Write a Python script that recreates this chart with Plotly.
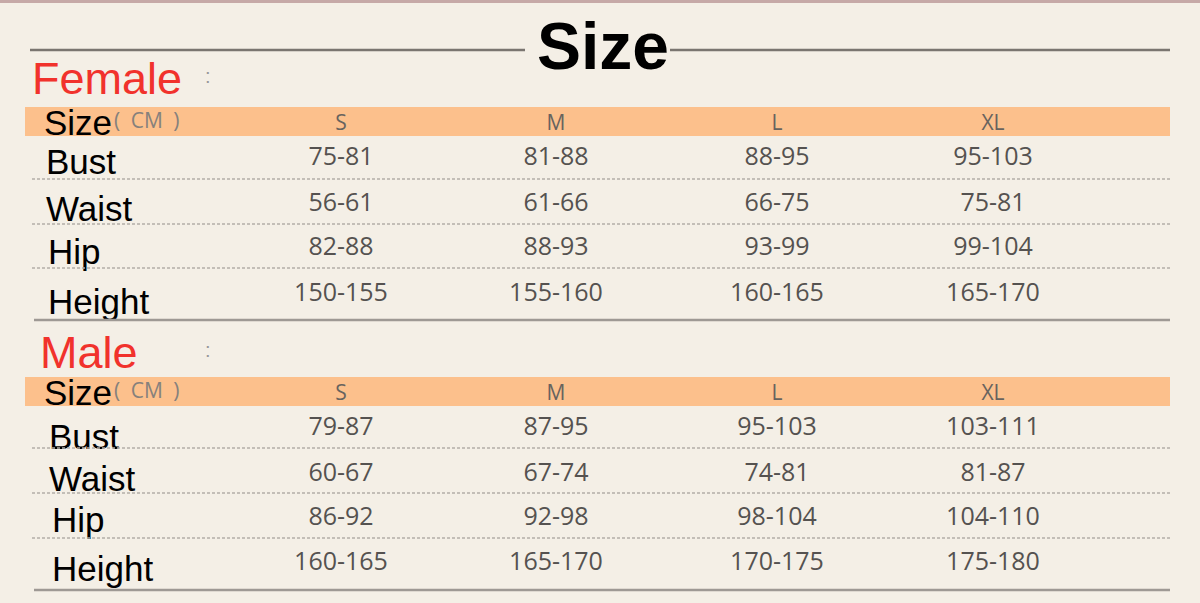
import plotly.graph_objects as go

# table content
sizes = ["S", "M", "L", "XL"]
measures = ["Bust", "Waist", "Hip", "Height"]

female_bust = ["75-81", "81-88", "88-95", "95-103"]
female_waist = ["56-61", "61-66", "66-75", "75-81"]
female_hip = ["82-88", "88-93", "93-99", "99-104"]
female_height = ["150-155", "155-160", "160-165", "165-170"]

male_bust = ["79-87", "87-95", "95-103", "103-111"]
male_waist = ["60-67", "67-74", "74-81", "81-87"]
male_hip = ["86-92", "92-98", "98-104", "104-110"]
male_height = ["160-165", "165-170", "170-175", "175-180"]

# layout (pixel space, y grows downward)
W, H = 1200, 603
col_x = [341, 556, 777, 993]
BG = "#f4efe6"
BAND = "#fcc08c"
RED = "#f1322c"
VAL_COLOR = "#555250"

sections = [
    dict(name="Female", name_y=78, band=(107, 136), head_y=122,
         rows=[female_bust, female_waist, female_hip, female_height],
         val_y=[159, 205, 249, 295], lab_y=[165, 212, 255, 305],
         lab_x=[46, 46, 48, 48], dashes=[179, 224, 268], solid=320),
    dict(name="Male", name_y=352, band=(377, 406), head_y=392,
         rows=[male_bust, male_waist, male_hip, male_height],
         val_y=[429, 475, 519, 564], lab_y=[440, 482, 523, 572],
         lab_x=[49, 49, 52, 52], dashes=[448, 493, 538], solid=590),
]

fig = go.Figure()
shapes = []
annotations = []

# background details
shapes.append(dict(type="rect", x0=0, x1=W, y0=0, y1=3, fillcolor="#c6a9a7",
                   line=dict(width=0), layer="below"))
shapes.append(dict(type="line", x0=30, x1=525, y0=50, y1=50,
                   line=dict(color="#7a7570", width=2.5)))
shapes.append(dict(type="line", x0=670, x1=1170, y0=50, y1=50,
                   line=dict(color="#7a7570", width=2.5)))
annotations.append(dict(x=603, y=46, text="<b>Size</b>", showarrow=False,
                        xanchor="center", yanchor="middle",
                        font=dict(family="Liberation Sans", size=66, color="#000")))

for sec in sections:
    b0, b1 = sec["band"]
    shapes.append(dict(type="rect", x0=25, x1=1170, y0=b0, y1=b1,
                       fillcolor=BAND, line=dict(width=0), layer="below"))
    for yd in sec["dashes"]:
        shapes.append(dict(type="line", x0=32, x1=1170, y0=yd, y1=yd,
                           line=dict(color="#b3aea8", width=1.5, dash="3px,2px")))
    shapes.append(dict(type="line", x0=34, x1=1170, y0=sec["solid"], y1=sec["solid"],
                       line=dict(color="#9e9994", width=2.5)))

    # section heading
    annotations.append(dict(x=30 if sec["name"] == "Female" else 38, y=sec["name_y"],
                            text=sec["name"], showarrow=False,
                            xanchor="left", yanchor="middle",
                            font=dict(family="Liberation Sans", size=45, color=RED)))
    annotations.append(dict(x=208, y=sec["name_y"] - 2, text=":", showarrow=False,
                            xanchor="center", yanchor="middle",
                            font=dict(family="Liberation Sans", size=20, color="#999")))

    # header row
    annotations.append(dict(x=42, y=sec["head_y"], text="Size", showarrow=False,
                            xanchor="left", yanchor="middle",
                            font=dict(family="Liberation Sans", size=35, color="#000")))
    annotations.append(dict(x=112, y=sec["head_y"] - 2, text="(\u2002CM\u2002)",
                            showarrow=False, xanchor="left", yanchor="middle",
                            font=dict(family="Open Sans", size=21, color="#86817c")))
    fig.add_trace(go.Scatter(
        x=col_x, y=[sec["head_y"] + 3] * len(sizes), text=sizes, mode="text",
        textposition="middle center",
        textfont=dict(family="Open Sans", size=21, color="#68635e"),
        hoverinfo="skip", showlegend=False))

    # measure labels
    fig.add_trace(go.Scatter(
        x=sec["lab_x"], y=sec["lab_y"], text=measures, mode="text",
        textposition="middle right",
        textfont=dict(family="Liberation Sans", size=35, color="#000"),
        hoverinfo="skip", showlegend=False))

    # values
    for vals, yv in zip(sec["rows"], sec["val_y"]):
        fig.add_trace(go.Scatter(
            x=col_x, y=[yv] * len(vals), text=vals, mode="text",
            textposition="middle center",
            textfont=dict(family="Open Sans", size=25, color=VAL_COLOR, weight=500),
            hoverinfo="skip", showlegend=False))

fig.update_layout(
    width=W, height=H,
    margin=dict(l=0, r=0, t=0, b=0),
    paper_bgcolor=BG, plot_bgcolor=BG,
    shapes=shapes, annotations=annotations,
    xaxis=dict(range=[0, W], visible=False, fixedrange=True),
    yaxis=dict(range=[H, 0], visible=False, fixedrange=True),
)

fig.write_html("out.html", config={"displayModeBar": False},
               post_script="document.body.style.margin='0';"
                           "document.body.style.background='" + BG + "';")
